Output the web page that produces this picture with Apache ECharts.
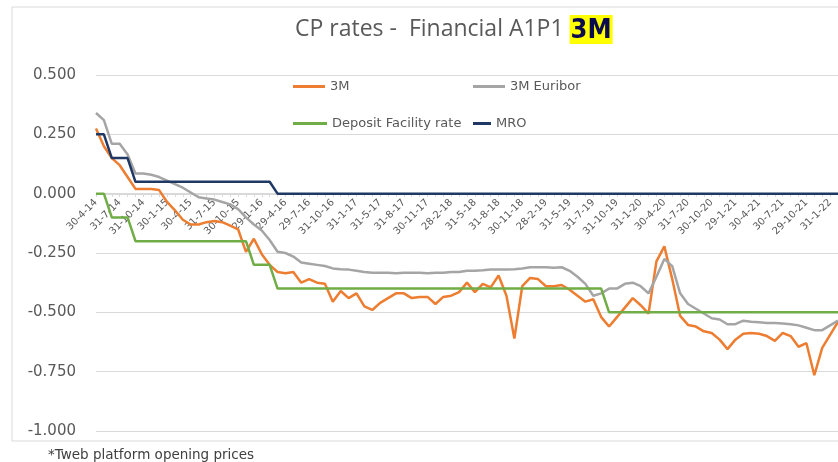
<!DOCTYPE html>
<html>
<head>
<meta charset="utf-8">
<script src="https://cdn.jsdelivr.net/npm/echarts@6/dist/echarts.min.js"></script>
<style>
  html, body { margin: 0; padding: 0; background: #fff; }
  #main { width: 838px; height: 462px; }
</style>
</head>
<body>
<div id="main"></div>
<script>
// month-end dates, one label shown every 3rd point
var dates = [
  "30-4-14", "30-5-14", "30-6-14", "31-7-14", "29-8-14", "30-9-14", "31-10-14", "28-11-14", "31-12-14",
  "30-1-15", "27-2-15", "31-3-15", "30-4-15", "29-5-15", "30-6-15", "31-7-15", "31-8-15", "30-9-15",
  "30-10-15", "30-11-15", "31-12-15", "29-1-16", "29-2-16", "31-3-16", "29-4-16", "31-5-16", "30-6-16",
  "29-7-16", "31-8-16", "30-9-16", "31-10-16", "30-11-16", "30-12-16", "31-1-17", "28-2-17", "31-3-17",
  "31-5-17", "30-6-17", "31-7-17", "31-8-17", "29-9-17", "31-10-17", "30-11-17", "29-12-17", "31-1-18",
  "28-2-18", "30-3-18", "30-4-18", "31-5-18", "29-6-18", "31-7-18", "31-8-18", "28-9-18", "31-10-18",
  "30-11-18", "31-12-18", "31-1-19", "28-2-19", "29-3-19", "30-4-19", "31-5-19", "14-6-19", "28-6-19",
  "31-7-19", "30-8-19", "30-9-19", "31-10-19", "29-11-19", "31-12-19", "31-1-20", "28-2-20", "31-3-20",
  "30-4-20", "29-5-20", "30-6-20", "31-7-20", "31-8-20", "30-9-20", "30-10-20", "30-11-20", "31-12-20",
  "29-1-21", "26-2-21", "31-3-21", "30-4-21", "31-5-21", "30-6-21", "30-7-21", "31-8-21", "30-9-21",
  "29-10-21", "30-11-21", "31-12-21", "31-1-22", "28-2-22"
];

var cp3m = [
  0.275, 0.2, 0.15, 0.12, 0.07, 0.02, 0.02, 0.02, 0.015,
  -0.035, -0.07, -0.11, -0.13, -0.13, -0.12, -0.115, -0.12, -0.135,
  -0.15, -0.245, -0.19, -0.255, -0.3, -0.33, -0.335, -0.33, -0.375,
  -0.36, -0.375, -0.38, -0.455, -0.41, -0.44, -0.42, -0.475, -0.49,
  -0.46, -0.44, -0.42, -0.42, -0.44, -0.435, -0.435, -0.465, -0.435,
  -0.43, -0.415, -0.375, -0.415, -0.38, -0.395, -0.345, -0.43, -0.61,
  -0.39, -0.355, -0.36, -0.39, -0.39, -0.385, -0.405, -0.43, -0.455,
  -0.445, -0.52, -0.56, -0.52, -0.48, -0.44, -0.47, -0.505, -0.285,
  -0.222, -0.36, -0.515, -0.553, -0.56, -0.58, -0.587, -0.615, -0.655,
  -0.615, -0.59, -0.587, -0.59, -0.6, -0.62, -0.587, -0.6, -0.645,
  -0.63, -0.765, -0.65, -0.595, -0.54
];

var euribor3m = [
  0.34, 0.31, 0.21, 0.21, 0.165, 0.085, 0.085, 0.08, 0.07,
  0.055, 0.04, 0.025, 0.005, -0.015, -0.02, -0.025, -0.035, -0.045,
  -0.065, -0.1, -0.13, -0.155, -0.195, -0.245, -0.25, -0.265, -0.29,
  -0.295, -0.3, -0.305, -0.315, -0.318, -0.32, -0.325, -0.33, -0.333,
  -0.333, -0.333, -0.335, -0.333, -0.333, -0.333, -0.335, -0.333, -0.333,
  -0.33, -0.33, -0.325, -0.325, -0.323, -0.32, -0.32, -0.32, -0.318,
  -0.315, -0.31, -0.31, -0.31, -0.312, -0.31, -0.325, -0.35, -0.38,
  -0.43, -0.42, -0.4, -0.4, -0.38, -0.375, -0.39, -0.42, -0.35,
  -0.275, -0.305, -0.42, -0.465, -0.485, -0.505, -0.525, -0.53, -0.55,
  -0.55, -0.535, -0.54, -0.542, -0.545, -0.545, -0.547, -0.55, -0.555,
  -0.565, -0.575, -0.575, -0.555, -0.535
];

var depositRate = [
  0, 0, -0.1, -0.1, -0.1, -0.2, -0.2, -0.2, -0.2,
  -0.2, -0.2, -0.2, -0.2, -0.2, -0.2, -0.2, -0.2, -0.2,
  -0.2, -0.2, -0.3, -0.3, -0.3, -0.4, -0.4, -0.4, -0.4,
  -0.4, -0.4, -0.4, -0.4, -0.4, -0.4, -0.4, -0.4, -0.4,
  -0.4, -0.4, -0.4, -0.4, -0.4, -0.4, -0.4, -0.4, -0.4,
  -0.4, -0.4, -0.4, -0.4, -0.4, -0.4, -0.4, -0.4, -0.4,
  -0.4, -0.4, -0.4, -0.4, -0.4, -0.4, -0.4, -0.4, -0.4,
  -0.4, -0.4, -0.5, -0.5, -0.5, -0.5, -0.5, -0.5, -0.5,
  -0.5, -0.5, -0.5, -0.5, -0.5, -0.5, -0.5, -0.5, -0.5,
  -0.5, -0.5, -0.5, -0.5, -0.5, -0.5, -0.5, -0.5, -0.5,
  -0.5, -0.5, -0.5, -0.5, -0.5
];

var mro = [
  0.25, 0.25, 0.15, 0.15, 0.15, 0.05, 0.05, 0.05, 0.05,
  0.05, 0.05, 0.05, 0.05, 0.05, 0.05, 0.05, 0.05, 0.05,
  0.05, 0.05, 0.05, 0.05, 0.05, 0, 0, 0, 0,
  0, 0, 0, 0, 0, 0, 0, 0, 0,
  0, 0, 0, 0, 0, 0, 0, 0, 0,
  0, 0, 0, 0, 0, 0, 0, 0, 0,
  0, 0, 0, 0, 0, 0, 0, 0, 0,
  0, 0, 0, 0, 0, 0, 0, 0, 0,
  0, 0, 0, 0, 0, 0, 0, 0, 0,
  0, 0, 0, 0, 0, 0, 0, 0, 0,
  0, 0, 0, 0, 0
];

var myChart = echarts.init(document.getElementById("main"));

var textGrey = "#595959";
var legendText = { color: textGrey, fontSize: 13, fontFamily: "DejaVu Sans" };

function line(name, data, color) {
  return {
    name: name,
    type: "line",
    data: data,
    symbol: "none",
    lineStyle: { color: color, width: 2.5 },
    itemStyle: { color: color }
  };
}

function legendItem(name, left, top, w) {
  return {
    data: [name],
    left: left,
    top: top,
    padding: 0,
    icon: "rect",
    itemWidth: w,
    itemHeight: 3,
    textStyle: legendText
  };
}

myChart.setOption({
  animation: false,
  title: {
    left: 295,
    top: 15,
    padding: 0,
    text: "{a|CP rates -  Financial A1P1 }{b|3M}",
    textStyle: {
      fontWeight: "normal",
      rich: {
        a: { fontSize: 23, fontWeight: "normal", color: textGrey, fontFamily: "Open Sans", verticalAlign: "middle" },
        b: {
          fontSize: 27,
          fontWeight: "bold",
          color: "#0b0b4f",
          fontFamily: "DejaVu Sans Condensed, Liberation Sans, sans-serif",
          backgroundColor: "#ffff00",
          padding: [2, 1, 0, 1],
          verticalAlign: "middle"
        }
      }
    }
  },
  legend: [
    legendItem("3M", 293, 80, 32),
    legendItem("3M Euribor", 473, 80, 32),
    legendItem("Deposit Facility rate", 293, 117, 34),
    legendItem("MRO", 473, 117, 18)
  ],
  grid: { left: 96, right: 0, top: 75, bottom: 31, containLabel: false, outerBoundsMode: "none" },
  xAxis: {
    type: "category",
    data: dates,
    boundaryGap: false,
    position: "bottom",
    offset: -237,
    axisLine: { onZero: false, lineStyle: { color: "#d9d9d9", width: 1 } },
    axisTick: { show: true, interval: 0, length: 3, lineStyle: { color: "#d9d9d9" } },
    axisLabel: {
      interval: 2,
      rotate: 45,
      margin: 7,
      fontSize: 10,
      color: textGrey,
      fontFamily: "DejaVu Sans"
    },
    splitLine: { show: false }
  },
  yAxis: {
    type: "value",
    min: -1,
    max: 0.5,
    interval: 0.25,
    axisLine: { show: false },
    axisTick: { show: false },
    axisLabel: {
      margin: 20,
      fontSize: 15,
      color: textGrey,
      fontFamily: "DejaVu Sans",
      formatter: function (v) { return v.toFixed(3); }
    },
    splitLine: { lineStyle: { color: "#d9d9d9", width: 1 } }
  },
  graphic: [
    {
      type: "rect",
      shape: { x: 12, y: 7, width: 900, height: 434 },
      style: { fill: "none", stroke: "#d9d9d9", lineWidth: 1 },
      silent: true,
      z: -1
    },
    {
      type: "text",
      left: 48,
      top: 448,
      style: { text: "*Tweb platform opening prices", fill: "#404040", fontSize: 13.5, fontFamily: "DejaVu Sans" }
    }
  ],
  series: [
    line("3M", cp3m, "#ed7d31"),
    line("3M Euribor", euribor3m, "#a5a5a5"),
    line("Deposit Facility rate", depositRate, "#70ad47"),
    line("MRO", mro, "#203864")
  ]
});
</script>
</body>
</html>
